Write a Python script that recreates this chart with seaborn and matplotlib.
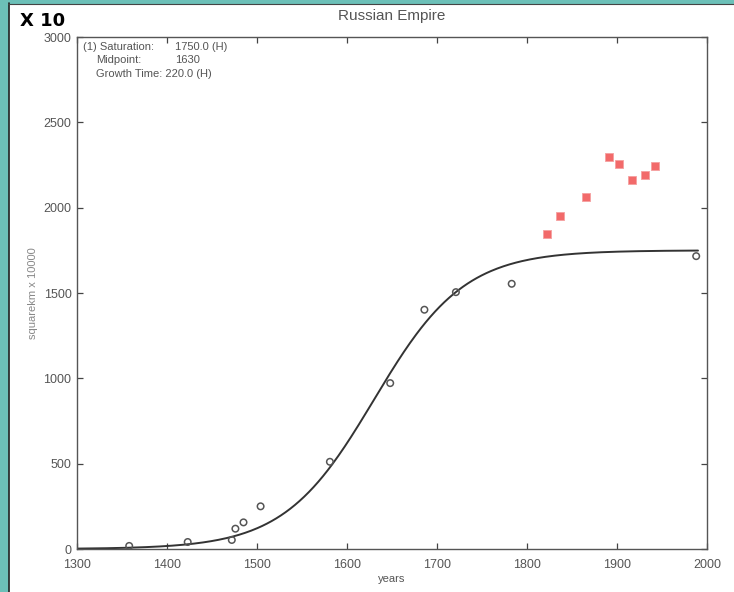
import numpy as np
import pandas as pd
import matplotlib
matplotlib.use("Agg")
import matplotlib.pyplot as plt
import seaborn as sns
from matplotlib.patches import Rectangle

# ---- data ----
hist_years = [1358, 1423, 1472, 1476, 1485, 1504, 1581, 1648, 1686, 1721, 1783, 1988]
hist_area = [18, 41, 53, 119, 156, 250, 511, 972, 1402, 1505, 1554, 1716]
extra_years = [1822, 1837, 1866, 1891, 1902, 1917, 1931, 1942]
extra_area = [1845, 1949, 2062, 2295, 2257, 2160, 2193, 2244]

saturation = 1750.0
midpoint = 1630.0
growth_time = 220.0
curve_start, curve_end = 1300, 1990

x_ticks = [1300, 1400, 1500, 1600, 1700, 1800, 1900, 2000]
y_ticks = [0, 500, 1000, 1500, 2000, 2500, 3000]

# logistic fit curve defined by the stated parameters
curve_t = np.linspace(curve_start, curve_end, 400)
curve_v = saturation / (1 + np.exp(-np.log(81) / growth_time * (curve_t - midpoint)))

df_hist = pd.DataFrame({"years": hist_years, "area": hist_area})
df_extra = pd.DataFrame({"years": extra_years, "area": extra_area})
df_curve = pd.DataFrame({"years": curve_t, "area": curve_v})

sns.set_theme(style="white")
plt.rcParams["font.family"] = ["Liberation Sans", "DejaVu Sans"]

fig = plt.figure(figsize=(7.34, 5.92), dpi=100)
fig.patch.set_facecolor("white")
teal = "#6cc0b8"
fig.patches.append(Rectangle((0, 0), 8 / 734, 1, transform=fig.transFigure, color=teal, zorder=0))
fig.patches.append(Rectangle((0, 1 - 3 / 592), 1, 3 / 592, transform=fig.transFigure, color=teal, zorder=0))
fig.lines.append(plt.Line2D([8.5 / 734, 8.5 / 734], [0, 1 - 3 / 592], transform=fig.transFigure, color="#222222", lw=1.2))
fig.lines.append(plt.Line2D([8 / 734, 1], [1 - 3.5 / 592, 1 - 3.5 / 592], transform=fig.transFigure, color="#444444", lw=0.8))

ax = fig.add_axes([77 / 734, 43 / 592, 630 / 734, 512 / 592])
ax.set_facecolor("white")

sns.lineplot(data=df_curve, x="years", y="area", ax=ax, color="#333333", lw=1.4, zorder=2)
sns.scatterplot(data=df_hist, x="years", y="area", ax=ax, marker="o", s=22,
                facecolors="none", edgecolor="#555555", linewidth=1.1, zorder=3)
sns.scatterplot(data=df_extra, x="years", y="area", ax=ax, marker="s", s=26,
                color="#f26a6a", edgecolor="#f5a0a0", linewidth=0.6, zorder=3)

ax.set_xlim(1300, 2000)
ax.set_ylim(0, 3000)
ax.set_xticks(x_ticks)
ax.set_yticks(y_ticks)
ax.tick_params(direction="in", length=4, width=0.9, colors="#444444", labelcolor="#555555",
               labelsize=9, top=True, right=True, bottom=True, left=True)
ax.tick_params(axis="x", pad=7)
ax.tick_params(axis="y", pad=4)
for s in ax.spines.values():
    s.set_color("#555555")
    s.set_linewidth(1.0)

ax.set_xlabel("years", fontsize=8, color="#555555", labelpad=2)
ax.set_ylabel("squarekm x 10000", fontsize=8, color="#888888", labelpad=4)

ax.set_title("Russian Empire", fontsize=11, color="#555555", pad=12)

lab_col = "#555555"
fs = 8
ax.text(0.009, 0.990, "(1) Saturation:", transform=ax.transAxes, fontsize=fs, color=lab_col, va="top")
ax.text(0.155, 0.990, f"{saturation:.1f} (H)", transform=ax.transAxes, fontsize=fs, color=lab_col, va="top")
ax.text(0.030, 0.964, "Midpoint:", transform=ax.transAxes, fontsize=fs, color=lab_col, va="top")
ax.text(0.155, 0.964, f"{midpoint:.0f}", transform=ax.transAxes, fontsize=fs, color=lab_col, va="top")
ax.text(0.030, 0.938, f"Growth Time: {growth_time:.1f} (H)", transform=ax.transAxes, fontsize=fs,
        color=lab_col, va="top")

fig.text(20 / 734, 1 - 21 / 592, "X 10", fontsize=13, fontweight="bold", color="black",
         va="center", ha="left", family=["DejaVu Sans"])

fig.savefig("out.png", dpi=100, facecolor="white")
